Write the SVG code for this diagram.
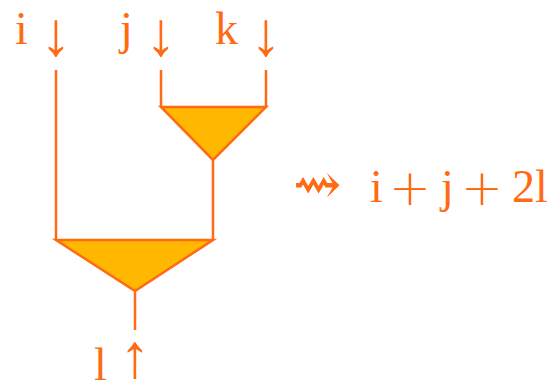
<svg xmlns="http://www.w3.org/2000/svg" width="560" height="391" viewBox="0 0 560 391">
<style>
.w{fill:none;stroke:#ff6a13;stroke-width:2.5}
.g{fill:#ffb700;stroke:#ff6a13;stroke-width:2.5;stroke-linejoin:miter}
.t{fill:#ff6a13;font-family:"Liberation Serif","DejaVu Serif",serif;font-size:46px}
.a{fill:#ff6a13;font-family:"Liberation Serif",serif;font-size:62px;text-anchor:middle}
.s{fill:#ff6a13;font-family:"DejaVu Serif",serif;font-size:58px;text-anchor:middle}
.p{fill:#ff6a13;font-family:"DejaVu Sans",sans-serif;font-size:50px;text-anchor:middle;font-weight:200}
</style>
<rect width="560" height="391" fill="#fff"/>
<g id="connectors">
<path class="w" d="M56,70V240"/>
<path class="w" d="M161,70V107"/>
<path class="w" d="M266,70V107"/>
<path class="w" d="M213,160V240"/>
<path class="w" d="M135,291V330"/>
</g>
<g id="node-top">
<polygon class="g" points="161,107 266,107 213,160"/>
</g>
<g id="node-bottom">
<polygon class="g" points="56,240 213,240 135,291"/>
</g>
<g id="label-i"><text class="t" x="15" y="44">i</text><text class="a" x="56" y="55">↓</text></g>
<g id="label-j"><text class="t" x="120" y="44">j</text><text class="a" x="161" y="55">↓</text></g>
<g id="label-k"><text class="t" x="215" y="44">k</text><text class="a" x="266" y="55">↓</text></g>
<g id="label-l"><text class="t" x="94" y="380">l</text><text class="a" x="135" y="377">↑</text></g>
<g id="result"><text class="s" x="317" y="204">⇝</text><text class="t" x="370" y="202">i</text><text class="p" x="410" y="205">+</text><text class="t" x="441" y="202">j</text><text class="p" x="482" y="205">+</text><text class="t" x="512" y="202">2l</text></g>
</svg>
